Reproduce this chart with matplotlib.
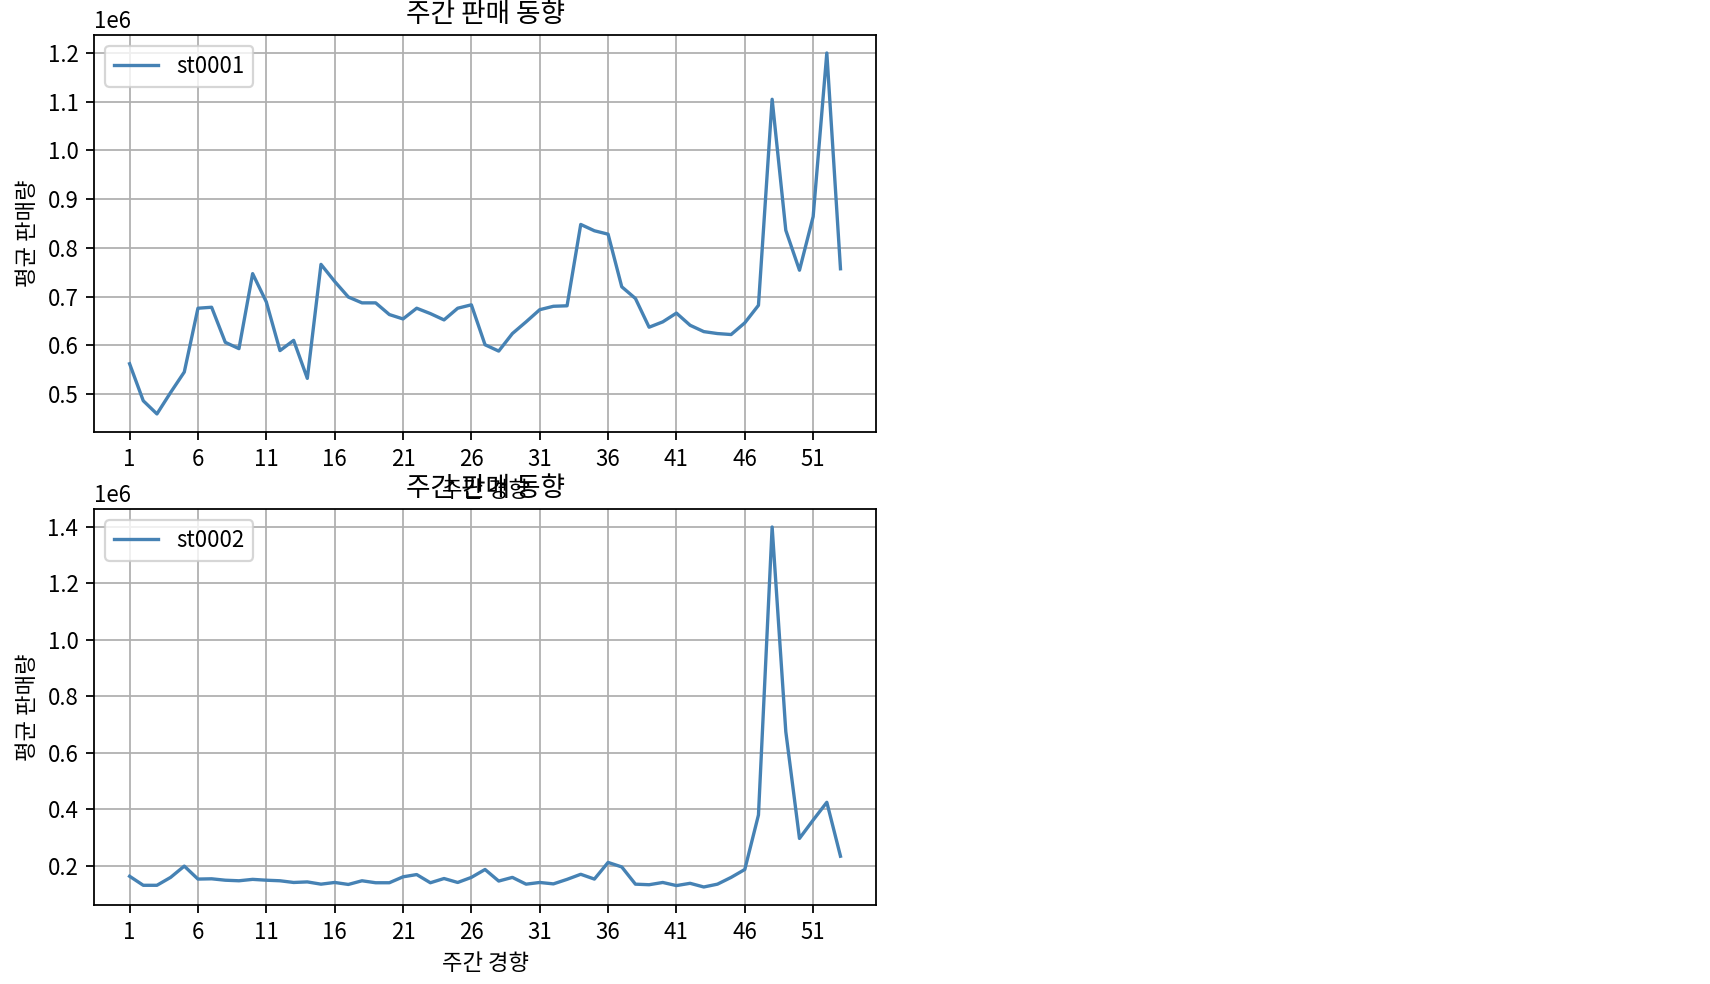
import matplotlib.pyplot as plt
from matplotlib.ticker import MultipleLocator
import numpy as np

plt.rcParams['font.family'] = ['Noto Sans CJK KR', 'DejaVu Sans']
plt.rcParams['axes.unicode_minus'] = False

weeks = np.arange(1, 54)

st0001 = [0.562, 0.486, 0.459, 0.503, 0.545, 0.676, 0.678, 0.606, 0.593, 0.747,
          0.689, 0.589, 0.610, 0.532, 0.766, 0.731, 0.699, 0.687, 0.687, 0.663,
          0.654, 0.676, 0.665, 0.652, 0.676, 0.683, 0.601, 0.588, 0.624, 0.648,
          0.673, 0.680, 0.681, 0.848, 0.835, 0.828, 0.720, 0.696, 0.637, 0.648,
          0.666, 0.641, 0.628, 0.624, 0.622, 0.646, 0.682, 1.105, 0.836, 0.754,
          0.864, 1.200, 0.757]

st0002 = [0.163, 0.131, 0.131, 0.159, 0.199, 0.153, 0.154, 0.149, 0.147, 0.152,
          0.149, 0.147, 0.141, 0.143, 0.135, 0.141, 0.134, 0.147, 0.140, 0.140,
          0.161, 0.169, 0.140, 0.155, 0.141, 0.159, 0.187, 0.146, 0.159, 0.135,
          0.141, 0.136, 0.152, 0.170, 0.153, 0.212, 0.196, 0.135, 0.133, 0.141,
          0.130, 0.138, 0.125, 0.135, 0.159, 0.187, 0.380, 1.400, 0.675, 0.297,
          0.362, 0.425, 0.234]

stores = ['st0001', 'st0002']
series = [np.array(st0001) * 1e6, np.array(st0002) * 1e6]
ysteps = [0.1e6, 0.2e6]

DPI = 160
fig = plt.figure(figsize=(1710/DPI, 984/DPI), dpi=DPI)
positions = [[0.055, 0.561, 0.4573, 0.4035], [0.055, 0.0803, 0.4573, 0.4024]]

for pos, name, vals, step in zip(positions, stores, series, ysteps):
    ax = fig.add_axes(pos)
    ax.plot(weeks, vals, color='steelblue', label=name)
    ax.set_xticks(weeks[::5])
    ax.yaxis.set_major_locator(MultipleLocator(step))
    ax.grid(True)
    ax.legend(loc='upper left')
    ax.set_title('주간 판매 동향')
    ax.set_xlabel('주간 경향')
    ax.set_ylabel('평균 판매량')

fig.savefig('out.png', dpi=DPI)
